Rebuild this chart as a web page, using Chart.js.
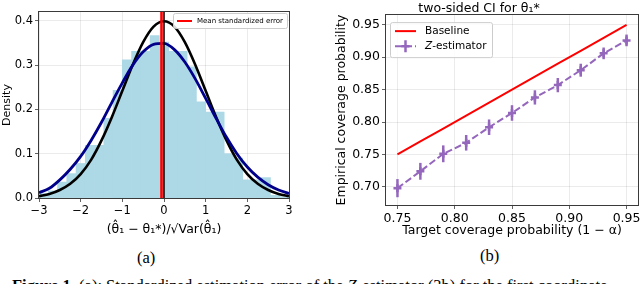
<!DOCTYPE html>
<html>
<head>
<meta charset="utf-8">
<script src="https://cdn.jsdelivr.net/npm/chart.js@4.4.0/dist/chart.umd.min.js"></script>
<style>
  html, body { margin: 0; padding: 0; background: #fff; width: 640px; height: 284px; overflow: hidden; }
  #left { position: absolute; left: 0; top: 0; }
  #right { position: absolute; left: 320px; top: 0; }
  .sub { position: absolute; font-family: "Liberation Serif", serif; font-size: 16.5px; line-height: 16px; white-space: nowrap; }
</style>
</head>
<body>
<canvas id="left" width="320" height="240"></canvas>
<canvas id="right" width="340" height="240"></canvas>
<div class="sub" style="left:137px; top:250px;">(a)</div>
<div class="sub" style="left:480px; top:248px;">(b)</div>
<div class="sub" style="left:12px; top:278px;"><b>Figure 1.</b> (a): Standardized estimation error of the <i>Z</i>-estimator (3b) for the first coordinate</div>
<script>
// ---- left panel: histogram of standardized errors ----
const histCenters = [-2.889, -2.667, -2.444, -2.222, -2.000, -1.778, -1.556, -1.333, -1.111,
  -0.889, -0.667, -0.444, -0.222, 0.000, 0.222, 0.444, 0.667, 0.889,
  1.111, 1.333, 1.556, 1.778, 2.000, 2.222, 2.444, 2.667, 2.889];
const histDensity = [0.010, 0.016, 0.036, 0.055, 0.078, 0.119, 0.119, 0.180, 0.243,
  0.312, 0.331, 0.331, 0.367, 0.352, 0.331, 0.331, 0.296, 0.217,
  0.194, 0.194, 0.100, 0.090, 0.041, 0.041, 0.046, 0.006, 0.003];
const curveX = [-3, -2.75, -2.5, -2.25, -2, -1.75, -1.5, -1.25, -1, -0.75, -0.5, -0.25, 0,
  0.25, 0.5, 0.75, 1, 1.25, 1.5, 1.75, 2, 2.25, 2.5, 2.75, 3];
const stdNormal = [0.004, 0.009, 0.018, 0.032, 0.054, 0.086, 0.130, 0.183, 0.242, 0.301, 0.352, 0.387, 0.399,
  0.387, 0.352, 0.301, 0.242, 0.183, 0.130, 0.086, 0.054, 0.032, 0.018, 0.009, 0.004];
const fittedNormal = [0.012, 0.022, 0.041, 0.065, 0.094, 0.130, 0.171, 0.216, 0.260, 0.300, 0.330, 0.347, 0.349,
  0.335, 0.307, 0.269, 0.225, 0.180, 0.137, 0.100, 0.070, 0.047, 0.030, 0.018, 0.010];
const meanError = -0.06;
const leftXTicks = [-3, -2, -1, 0, 1, 2, 3];
const leftYTicks = [0, 0.1, 0.2, 0.3, 0.4];

// ---- right panel: coverage ----
const target = [0.75, 0.77, 0.79, 0.81, 0.83, 0.85, 0.87, 0.89, 0.91, 0.93, 0.95];
const baseline = [0.75, 0.77, 0.79, 0.81, 0.83, 0.85, 0.87, 0.89, 0.91, 0.93, 0.95];
const zEst = [0.698, 0.724, 0.751, 0.768, 0.792, 0.814, 0.838, 0.857, 0.880, 0.906, 0.926];
const zErr = [0.014, 0.013, 0.013, 0.012, 0.012, 0.012, 0.011, 0.011, 0.010, 0.009, 0.009];
const rightXTicks = [0.75, 0.80, 0.85, 0.90, 0.95];
const rightYTicks = [0.70, 0.75, 0.80, 0.85, 0.90, 0.95];

const purple = '#9467bd';
const gridColor = 'rgba(0,0,0,0.1)';
const spine = '#3a3a3a';

Chart.defaults.font.family = '"DejaVu Sans", sans-serif';
Chart.defaults.color = '#000';

const frame = {
  id: 'frame',
  afterDatasetsDraw(chart) {
    const a = chart.chartArea, ctx = chart.ctx;
    ctx.save();
    ctx.strokeStyle = spine;
    ctx.lineWidth = 1;
    ctx.strokeRect(Math.round(a.left) - 0.5, Math.round(a.top) - 0.5,
      Math.round(a.right - a.left) + 1, Math.round(a.bottom - a.top) + 1);
    ctx.restore();
  }
};

function legendBox(ctx, x, y, w, h) {
  ctx.save();
  ctx.fillStyle = 'rgba(255,255,255,0.85)';
  ctx.strokeStyle = '#cccccc';
  ctx.lineWidth = 1;
  ctx.beginPath();
  ctx.roundRect(x + 0.5, y + 0.5, w, h, 2);
  ctx.fill();
  ctx.stroke();
  ctx.restore();
}

function tickAxis(list, size, fmt) {
  return {
    afterBuildTicks: a => { a.ticks = list.map(v => ({ value: v })); },
    ticks: { font: { size: size }, padding: 2, autoSkip: false, maxRotation: 0, callback: fmt },
    grid: { color: gridColor, tickColor: spine, tickLength: 4, lineWidth: 0.8 },
    border: { display: false }
  };
}

// left chart
const leftLegend = {
  id: 'leftLegend',
  afterDraw(chart) {
    const ctx = chart.ctx, a = chart.chartArea;
    const x = a.right - 116, y = a.top + 1;
    legendBox(ctx, x, y, 114, 15);
    ctx.save();
    ctx.strokeStyle = '#ff0000';
    ctx.lineWidth = 2;
    ctx.beginPath();
    ctx.moveTo(x + 4, y + 8);
    ctx.lineTo(x + 19, y + 8);
    ctx.stroke();
    const label = chart.data.datasets[3].label;
    ctx.font = '10px "DejaVu Sans"';
    const size = 10 * 86 / ctx.measureText(label).width;
    ctx.font = size.toFixed(2) + 'px "DejaVu Sans"';
    ctx.fillStyle = '#000';
    ctx.textBaseline = 'middle';
    ctx.fillText(label, x + 24, y + 8.5);
    ctx.restore();
  }
};

const lx = tickAxis(leftXTicks, 11.5, v => v < 0 ? '\u2212' + Math.abs(v) : String(v));
lx.type = 'linear'; lx.min = -3; lx.max = 3; lx.offset = false;
lx.grid.offset = false;
lx.title = { display: true, text: '(\u03b8\u0302\u2081 \u2212 \u03b8\u2081*)/\u221aVar(\u03b8\u0302\u2081)', font: { size: 12.5 }, padding: { top: 0, bottom: 3 } };
lx.afterFit = a => { a.height = 42; };
const ly = tickAxis(leftYTicks, 11.5, v => v.toFixed(1));
ly.min = 0; ly.max = 0.42;
ly.title = { display: true, text: 'Density', font: { size: 11 }, padding: { top: 1, bottom: 0 } };
ly.afterFit = a => { a.width = 39; };

new Chart(document.getElementById('left'), {
  type: 'bar',
  data: {
    datasets: [
      {
        type: 'bar', label: 'hist', order: 10,
        data: histCenters.map((c, i) => ({ x: c, y: histDensity[i] })),
        backgroundColor: '#add8e6', borderWidth: 0,
        barPercentage: 1, categoryPercentage: 1
      },
      {
        type: 'line', label: 'N(0,1)', order: 5,
        data: curveX.map((x, i) => ({ x: x, y: stdNormal[i] })),
        borderColor: '#000', borderWidth: 2.6, pointRadius: 0,
        cubicInterpolationMode: 'monotone'
      },
      {
        type: 'line', label: 'fit', order: 4,
        data: curveX.map((x, i) => ({ x: x, y: fittedNormal[i] })),
        borderColor: '#00008b', borderWidth: 2.8, pointRadius: 0,
        cubicInterpolationMode: 'monotone'
      },
      {
        type: 'line', label: 'Mean standardized error', order: 2,
        data: [{ x: meanError, y: 0 }, { x: meanError, y: 0.42 }],
        borderColor: '#ff0000', borderWidth: 2.6, pointRadius: 0
      },
      {
        type: 'line', label: 'zero', order: 1,
        data: [{ x: 0, y: 0 }, { x: 0, y: 0.42 }],
        borderColor: '#000', borderWidth: 1.5, pointRadius: 0
      }
    ]
  },
  options: {
    responsive: false, animation: false, devicePixelRatio: 1,
    layout: { padding: { left: 0, top: 12, right: 31, bottom: 0 } },
    plugins: { legend: { display: false }, tooltip: { enabled: false } },
    scales: { x: lx, y: ly }
  },
  plugins: [frame, leftLegend]
});

// right chart
const errorBars = {
  id: 'errorBars',
  afterDatasetsDraw(chart) {
    const ctx = chart.ctx, xs = chart.scales.x, ys = chart.scales.y;
    ctx.save();
    ctx.strokeStyle = purple;
    ctx.lineWidth = 2.5;
    for (let i = 0; i < target.length; i++) {
      const px = xs.getPixelForValue(target[i]);
      ctx.beginPath();
      ctx.moveTo(px, ys.getPixelForValue(zEst[i] - zErr[i]));
      ctx.lineTo(px, ys.getPixelForValue(zEst[i] + zErr[i]));
      ctx.stroke();
    }
    ctx.restore();
  }
};

const rightLegend = {
  id: 'rightLegend',
  afterDraw(chart) {
    const ctx = chart.ctx, a = chart.chartArea;
    const x = a.left + 4, y = a.top + 7;
    legendBox(ctx, x, y, 102, 35);
    ctx.save();
    // baseline entry
    ctx.strokeStyle = '#ff0000';
    ctx.lineWidth = 2;
    ctx.beginPath();
    ctx.moveTo(x + 5, y + 9); ctx.lineTo(x + 26, y + 9);
    ctx.stroke();
    // z-estimator entry
    ctx.strokeStyle = purple;
    ctx.setLineDash([7, 3]);
    ctx.beginPath();
    ctx.moveTo(x + 5, y + 24); ctx.lineTo(x + 26, y + 24);
    ctx.stroke();
    ctx.setLineDash([]);
    ctx.lineWidth = 2.5;
    ctx.beginPath();
    ctx.moveTo(x + 15.5, y + 18); ctx.lineTo(x + 15.5, y + 30);
    ctx.moveTo(x + 11.5, y + 24); ctx.lineTo(x + 19.5, y + 24);
    ctx.stroke();
    ctx.fillStyle = '#000';
    ctx.textBaseline = 'middle';
    ctx.font = '10.5px "DejaVu Sans"';
    ctx.fillText('Baseline', x + 35, y + 9.5);
    ctx.font = 'italic 10.5px "DejaVu Sans"';
    ctx.fillText('Z', x + 35, y + 24.5);
    const zw = ctx.measureText('Z').width;
    ctx.font = '10.5px "DejaVu Sans"';
    ctx.fillText('-estimator', x + 35 + zw, y + 24.5);
    ctx.restore();
  }
};

const rx = tickAxis(rightXTicks, 12.5, v => v.toFixed(2));
rx.type = 'linear'; rx.min = 0.74; rx.max = 0.96;
rx.title = { display: true, text: 'Target coverage probability (1 \u2212 \u03b1)', font: { size: 12.5 }, padding: { top: 0, bottom: 2 } };
rx.afterFit = a => { a.height = 35; };
const ry = tickAxis(rightYTicks, 12.5, v => v.toFixed(2));
ry.min = 0.672; ry.max = 0.965;
ry.title = { display: true, text: 'Empirical coverage probability', font: { size: 12.5 }, padding: { top: 14, bottom: 0 } };
ry.afterFit = a => { a.width = 66; };

new Chart(document.getElementById('right'), {
  type: 'line',
  data: {
    datasets: [
      {
        label: 'Baseline',
        data: target.map((t, i) => ({ x: t, y: baseline[i] })),
        borderColor: '#ff0000', borderWidth: 2, pointRadius: 0
      },
      {
        label: 'Z-estimator',
        data: target.map((t, i) => ({ x: t, y: zEst[i] })),
        borderColor: purple, borderWidth: 2, borderDash: [7, 3],
        pointStyle: 'cross', pointRadius: 4, pointBorderWidth: 2.5,
        pointBorderColor: purple, pointBackgroundColor: purple
      }
    ]
  },
  options: {
    responsive: false, animation: false, devicePixelRatio: 1,
    layout: { padding: { left: 0, top: 0, right: 22, bottom: 0 } },
    plugins: {
      legend: { display: false }, tooltip: { enabled: false },
      title: { display: true, text: 'two-sided CI for \u03b8\u2081*', font: { size: 12.5, weight: 'normal', lineHeight: 1.05 }, padding: { top: 2, bottom: 0 }, color: '#000' }
    },
    scales: { x: rx, y: ry }
  },
  plugins: [frame, errorBars, rightLegend]
});
</script>
</body>
</html>
